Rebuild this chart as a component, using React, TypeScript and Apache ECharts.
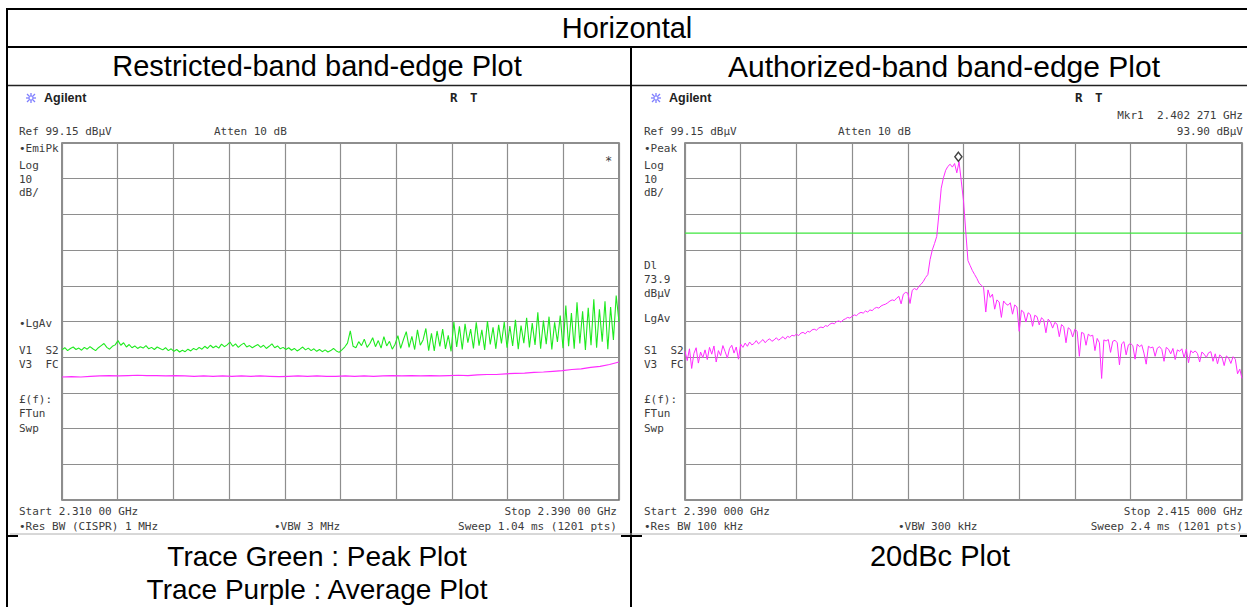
import React, { useEffect, useRef } from "react";
import * as echarts from "echarts";

// ---------- instrument settings ----------
const REF_LEVEL = 99.15; // dBµV, top of grid
const LEFT_SPAN_MHZ = 80; // 2.310 -> 2.390 GHz
const RIGHT_SPAN_MHZ = 25; // 2.390 -> 2.415 GHz
const RIGHT_START_GHZ = 2.39;
const DISPLAY_LINE = 73.9; // dBµV
const MARKER_FREQ_GHZ = 2.402271;
const MARKER_LEVEL = 93.9;

// ---------- left plot: restricted band (dBµV, evenly swept) ----------
const LEFT_PEAK = [
  41.2, 41.8, 41.0, 41.6, 42.0, 41.3, 41.7, 41.1, 41.9, 41.4,
  42.1, 41.5, 41.0, 41.8, 42.4, 43.0, 41.9, 41.4, 42.2, 42.6,
  43.8, 42.5, 43.2, 42.0, 42.7, 41.8, 42.3, 41.6, 42.1, 41.7,
  42.4, 41.5, 41.9, 41.3, 42.0, 41.6, 41.2, 41.8, 41.0, 41.5,
  40.8, 41.3, 40.6, 41.1, 40.7, 41.4, 40.9, 41.6, 41.2, 41.9,
  41.4, 42.2, 41.6, 42.5, 41.8, 42.3, 41.7, 42.8, 42.1, 42.6,
  43.4, 42.2, 42.9, 41.9, 42.6, 43.1, 42.0, 42.4, 41.8, 42.3,
  42.7, 41.9, 42.5, 41.6, 42.2, 42.9, 41.8, 42.3, 41.5, 41.9,
  41.3, 41.8, 41.1, 41.6, 40.9, 41.4, 42.0, 41.2, 41.7, 41.0,
  41.5, 40.8, 41.3, 40.7, 41.2, 40.6, 41.0, 41.6, 40.9, 40.5,
  41.2, 42.0, 43.1, 46.5, 42.2, 41.8, 43.5, 42.4, 44.2, 41.9,
  43.0, 44.6, 42.1, 43.8, 41.7, 44.9, 42.3, 43.6, 41.4, 42.8,
  45.2, 41.6, 44.1, 46.3, 41.9, 45.0, 41.3, 46.8, 42.5, 44.0,
  47.2, 41.0, 45.8, 40.9, 46.5, 42.2, 47.0, 41.5, 45.3, 40.8,
  49.0, 42.0, 47.8, 41.3, 48.5, 43.2, 47.0, 41.6, 48.9, 42.4,
  46.8, 41.2, 49.3, 42.7, 47.5, 41.5, 48.2, 43.0, 49.0, 41.8,
  47.9, 42.3, 49.6, 41.4, 48.0, 43.1, 50.2, 41.9, 48.7, 42.6,
  51.7, 41.5, 49.4, 42.8, 50.5, 41.3, 48.9, 43.4, 50.8, 41.7,
  53.6, 42.2, 51.5, 41.5, 54.5, 43.0, 52.0, 41.2, 53.0, 42.5,
  55.4, 41.8, 52.6, 43.5, 54.8, 41.4, 53.2, 44.0, 56.4, 49.0,
];

const LEFT_AVG = [
  33.6, 33.7, 33.6, 33.8, 33.9, 34.0, 33.9, 34.0, 34.1, 34.0,
  34.0, 33.9, 34.0, 33.9, 33.8, 33.9, 33.8, 33.9, 33.8, 33.9,
  33.8, 33.9, 33.8, 33.7, 33.8, 33.9, 33.8, 33.9, 33.8, 33.8,
  33.9, 33.8, 33.9, 33.8, 33.9, 34.0, 33.9, 34.0, 33.9, 34.0,
  33.9, 34.0, 34.1, 34.0, 34.2, 34.3, 34.3, 34.5, 34.6, 34.7,
  34.9, 35.0, 35.2, 35.4, 35.7, 35.9, 36.3, 36.6, 37.1, 37.8,
];

// ---------- right plot: authorized band edge (dBµV, evenly swept) ----------
const RIGHT_PEAK = [
  40.8, 38.2, 41.5, 36.0, 40.2, 41.8, 37.5, 40.6, 39.0, 41.2,
  38.5, 41.9, 40.0, 42.3, 37.8, 41.0, 39.6, 42.4, 40.7, 38.9,
  41.6, 42.5, 40.3, 42.0, 38.6, 42.8, 41.9, 43.1, 42.2, 43.4,
  42.6, 43.0, 43.8, 42.9, 43.5, 44.1, 43.2, 43.9, 44.3, 43.6,
  44.0, 44.6, 43.9, 44.4, 44.9, 44.2, 45.0, 44.7, 45.3, 45.1,
  45.6, 45.2, 45.9, 46.1, 45.7, 46.4, 46.2, 46.8, 47.0, 46.7,
  47.3, 47.6, 47.4, 48.0, 47.8, 48.4, 48.7, 48.5, 49.1, 49.3,
  49.0, 49.6, 49.9, 50.3, 50.1, 50.6, 51.0, 50.8, 51.4, 51.7,
  51.5, 52.1, 51.8, 52.4, 52.2, 52.8, 53.1, 52.9, 53.5, 53.8,
  54.0, 54.4, 54.9, 55.2, 55.0, 55.7, 56.2, 54.1, 56.8, 57.3,
  57.1, 54.2, 57.9, 58.4, 58.0, 59.0, 59.6, 60.4, 61.5, 62.3,
  66.5, 69.2, 71.0, 73.0, 79.5, 86.5, 89.4, 91.5, 92.6, 93.2,
  92.4, 93.4, 90.8, 93.9, 88.5, 83.0, 74.5, 66.2, 64.8, 63.4,
  62.3, 61.2, 59.9, 59.3, 58.7, 51.8, 58.0, 55.9, 56.8, 52.6,
  55.2, 54.6, 50.3, 54.9, 54.1, 53.7, 54.4, 51.2, 53.8, 53.2,
  46.4, 52.3, 51.8, 49.0, 51.6, 51.1, 47.8, 50.9, 50.5, 48.2,
  50.2, 49.6, 46.0, 49.8, 49.1, 47.3, 48.9, 48.4, 44.9, 48.3,
  47.7, 43.2, 47.4, 46.9, 44.8, 47.0, 46.4, 39.4, 46.1, 45.8,
  42.5, 45.6, 45.1, 45.3, 41.0, 44.4, 43.2, 33.2, 44.0, 43.7,
  44.1, 40.5, 43.6, 43.9, 43.2, 37.0, 42.9, 43.5, 39.8, 42.6,
  43.0, 42.4, 38.6, 42.8, 42.1, 42.6, 40.3, 37.2, 42.2, 41.8,
  42.0, 39.4, 41.7, 42.1, 41.3, 38.0, 41.9, 41.4, 40.1, 41.6,
  38.5, 41.2, 40.8, 41.5, 39.0, 41.4, 37.6, 41.0, 40.4, 40.9,
  40.2, 37.8, 40.6, 40.0, 39.1, 40.4, 40.7, 38.0, 40.1, 37.3,
  39.8, 39.2, 36.8, 39.5, 38.9, 37.4, 39.3, 38.6, 34.5, 35.8, 33.2,
];

// ---------- texts ----------
const TABLE_TITLE = "Horizontal";
const LEFT_TITLE = "Restricted-band band-edge Plot";
const RIGHT_TITLE = "Authorized-band band-edge Plot";
const LEFT_CAPTIONS = ["Trace Green : Peak Plot", "Trace Purple : Average Plot"];
const RIGHT_CAPTION = "20dBc Plot";

const LEFT_SIDE_LABELS: [string, number][] = [
  ["•EmiPk", 148], ["Log", 165], ["10", 179], ["dB/", 192], ["•LgAv", 323],
  ["V1  S2", 350], ["V3  FC", 364], ["£(f):", 399], ["FTun", 413], ["Swp", 428],
];
const RIGHT_SIDE_LABELS: [string, number][] = [
  ["•Peak", 148], ["Log", 165], ["10", 179], ["dB/", 192], ["Dl", 265], ["73.9", 279],
  ["dBµV", 293], ["LgAv", 318], ["S1  S2", 350], ["V3  FC", 364], ["£(f):", 399],
  ["FTun", 413], ["Swp", 428],
];

const MONO = '11px "DejaVu Sans Mono", monospace';
const INK = "#3c3c3c";
const HEAD = '29px "Liberation Sans", Arial, sans-serif';
const CAP = '28px "Liberation Sans", Arial, sans-serif';

function txt(x: number, y: number, text: string, font = MONO, align = "left", fill = INK) {
  return {
    type: "text",
    x,
    y,
    silent: true,
    style: {
      text,
      font,
      fill,
      textAlign: align,
      align,
      textVerticalAlign: "middle",
      verticalAlign: "middle",
    },
  };
}

function ln(x1: number, y1: number, x2: number, y2: number, stroke = "#000", lineWidth = 2) {
  return { type: "line", silent: true, shape: { x1, y1, x2, y2 }, style: { stroke, lineWidth } };
}

function agilentIcon(cx: number, cy: number) {
  const c = "#7f7fff";
  return [
    ln(cx - 5, cy, cx + 5, cy, c, 1.3),
    ln(cx, cy - 5, cx, cy + 5, c, 1.3),
    ln(cx - 4, cy - 4, cx + 4, cy + 4, c, 1.3),
    ln(cx - 4, cy + 4, cx + 4, cy - 4, c, 1.3),
    { type: "circle", silent: true, shape: { cx, cy, r: 2 }, style: { fill: "#fff", stroke: c, lineWidth: 1 } },
  ];
}

function sweep(levels: number[], span: number) {
  const n = levels.length;
  return levels.map((v, i) => [(i * span) / (n - 1), v - REF_LEVEL]);
}

export default function App() {
  const ref = useRef<HTMLDivElement>(null);

  useEffect(() => {
    if (!ref.current) return;
    const chart = echarts.init(ref.current, undefined, { renderer: "svg" });

    const axisCommon = {
      type: "value",
      axisLine: { show: false },
      axisTick: { show: false },
      axisLabel: { show: false },
      splitLine: { show: true, lineStyle: { color: "#8e8e8e", width: 1.2 } },
    };

    const graphics: any[] = [];
    // table rules
    graphics.push(ln(6, 9, 1247, 9));
    graphics.push(ln(6, 47, 1247, 47));
    graphics.push(ln(6, 85.5, 1247, 85.5, "#222", 1.5));
    graphics.push(ln(7, 8, 7, 607));
    graphics.push(ln(631, 47, 631, 607));
    graphics.push(ln(10, 534, 1247, 534, "#b0b0b0", 1));
    graphics.push(ln(6, 536, 18, 536));
    graphics.push(ln(621, 536, 642, 536));
    graphics.push(ln(1240, 536, 1247, 536));

    // headers and captions
    graphics.push(txt(627, 28, TABLE_TITLE, HEAD, "center", "#000"));
    graphics.push(txt(317, 66, LEFT_TITLE, HEAD, "center", "#000"));
    graphics.push(txt(944, 66, RIGHT_TITLE, '30px "Liberation Sans", Arial, sans-serif', "center", "#000"));
    graphics.push(txt(317, 556, LEFT_CAPTIONS[0], CAP, "center", "#000"));
    graphics.push(txt(317, 589, LEFT_CAPTIONS[1], CAP, "center", "#000"));
    graphics.push(txt(940, 556, RIGHT_CAPTION, HEAD, "center", "#000"));

    // instrument annotations - left
    graphics.push(...agilentIcon(31, 98));
    graphics.push(txt(44, 98, "Agilent", 'bold 12.5px "Liberation Sans", Arial', "left", "#222"));
    graphics.push(txt(450, 97, "R", 'bold 12.5px "DejaVu Sans Mono"', "left", "#222"));
    graphics.push(txt(470, 97, "T", 'bold 12.5px "DejaVu Sans Mono"', "left", "#222"));
    graphics.push(txt(19, 131, "Ref 99.15 dBµV"));
    graphics.push(txt(214, 131, "Atten 10 dB"));
    LEFT_SIDE_LABELS.forEach(([s, y]) => graphics.push(txt(19, y, s)));
    graphics.push(txt(605, 161, "*", '12px "DejaVu Sans Mono"'));
    graphics.push(txt(19, 511, "Start 2.310 00 GHz"));
    graphics.push(txt(617, 511, "Stop 2.390 00 GHz", MONO, "right"));
    graphics.push(txt(19, 526, "•Res BW (CISPR) 1 MHz"));
    graphics.push(txt(274, 526, "•VBW 3 MHz"));
    graphics.push(txt(617, 526, "Sweep 1.04 ms (1201 pts)", MONO, "right"));

    // instrument annotations - right
    graphics.push(...agilentIcon(656, 98));
    graphics.push(txt(669, 98, "Agilent", 'bold 12.5px "Liberation Sans", Arial', "left", "#222"));
    graphics.push(txt(1075, 97, "R", 'bold 12.5px "DejaVu Sans Mono"', "left", "#222"));
    graphics.push(txt(1095, 97, "T", 'bold 12.5px "DejaVu Sans Mono"', "left", "#222"));
    graphics.push(txt(1243, 115, "Mkr1  2.402 271 GHz", MONO, "right"));
    graphics.push(txt(644, 131, "Ref 99.15 dBµV"));
    graphics.push(txt(838, 131, "Atten 10 dB"));
    graphics.push(txt(1243, 131, "93.90 dBµV", MONO, "right"));
    RIGHT_SIDE_LABELS.forEach(([s, y]) => graphics.push(txt(644, y, s)));
    graphics.push(txt(644, 511, "Start 2.390 000 GHz"));
    graphics.push(txt(1243, 511, "Stop 2.415 000 GHz", MONO, "right"));
    graphics.push(txt(644, 526, "•Res BW 100 kHz"));
    graphics.push(txt(898, 526, "•VBW 300 kHz"));
    graphics.push(txt(1243, 526, "Sweep 2.4 ms (1201 pts)", MONO, "right"));

    const markerX = (MARKER_FREQ_GHZ - RIGHT_START_GHZ) * 1000;

    chart.setOption({
      animation: false,
      backgroundColor: "#ffffff",
      grid: [
        { left: 62, top: 143, width: 557, height: 357, show: true, borderColor: "#6a6a6a", borderWidth: 1.5, backgroundColor: "transparent" },
        { left: 685, top: 143, width: 557, height: 357, show: true, borderColor: "#6a6a6a", borderWidth: 1.5, backgroundColor: "transparent" },
      ],
      xAxis: [
        { ...axisCommon, gridIndex: 0, min: 0, max: LEFT_SPAN_MHZ, interval: LEFT_SPAN_MHZ / 10 },
        { ...axisCommon, gridIndex: 1, min: 0, max: RIGHT_SPAN_MHZ, interval: RIGHT_SPAN_MHZ / 10 },
      ],
      yAxis: [
        { ...axisCommon, gridIndex: 0, min: -100, max: 0, interval: 10 },
        { ...axisCommon, gridIndex: 1, min: -100, max: 0, interval: 10 },
      ],
      series: [
        {
          type: "line", xAxisIndex: 0, yAxisIndex: 0, data: sweep(LEFT_AVG, LEFT_SPAN_MHZ),
          symbol: "none", silent: true, lineStyle: { color: "#ff2cff", width: 1.2 }, z: 3,
        },
        {
          type: "line", xAxisIndex: 0, yAxisIndex: 0, data: sweep(LEFT_PEAK, LEFT_SPAN_MHZ),
          symbol: "none", silent: true, lineStyle: { color: "#1fea1f", width: 1.1 }, z: 4,
        },
        {
          type: "line", xAxisIndex: 1, yAxisIndex: 1,
          data: [[0, DISPLAY_LINE - REF_LEVEL], [RIGHT_SPAN_MHZ, DISPLAY_LINE - REF_LEVEL]],
          symbol: "none", silent: true, lineStyle: { color: "#3ee63e", width: 1.2 }, z: 3,
        },
        {
          type: "line", xAxisIndex: 1, yAxisIndex: 1, data: sweep(RIGHT_PEAK, RIGHT_SPAN_MHZ),
          symbol: "none", silent: true, lineStyle: { color: "#ff2cff", width: 1 }, z: 4,
        },
        {
          type: "scatter", xAxisIndex: 1, yAxisIndex: 1,
          data: [[markerX, MARKER_LEVEL - REF_LEVEL]],
          symbol: "diamond", symbolSize: [7, 9], symbolOffset: [0, -5], silent: true,
          itemStyle: { color: "#ffffff", borderColor: "#111", borderWidth: 1.5 }, z: 6,
        },
      ],
      graphic: graphics,
    });

    return () => chart.dispose();
  }, []);

  return (
    <div
      ref={ref}
      style={{ position: "absolute", left: 0, top: 0, width: 1247, height: 607, background: "#fff" }}
    />
  );
}
